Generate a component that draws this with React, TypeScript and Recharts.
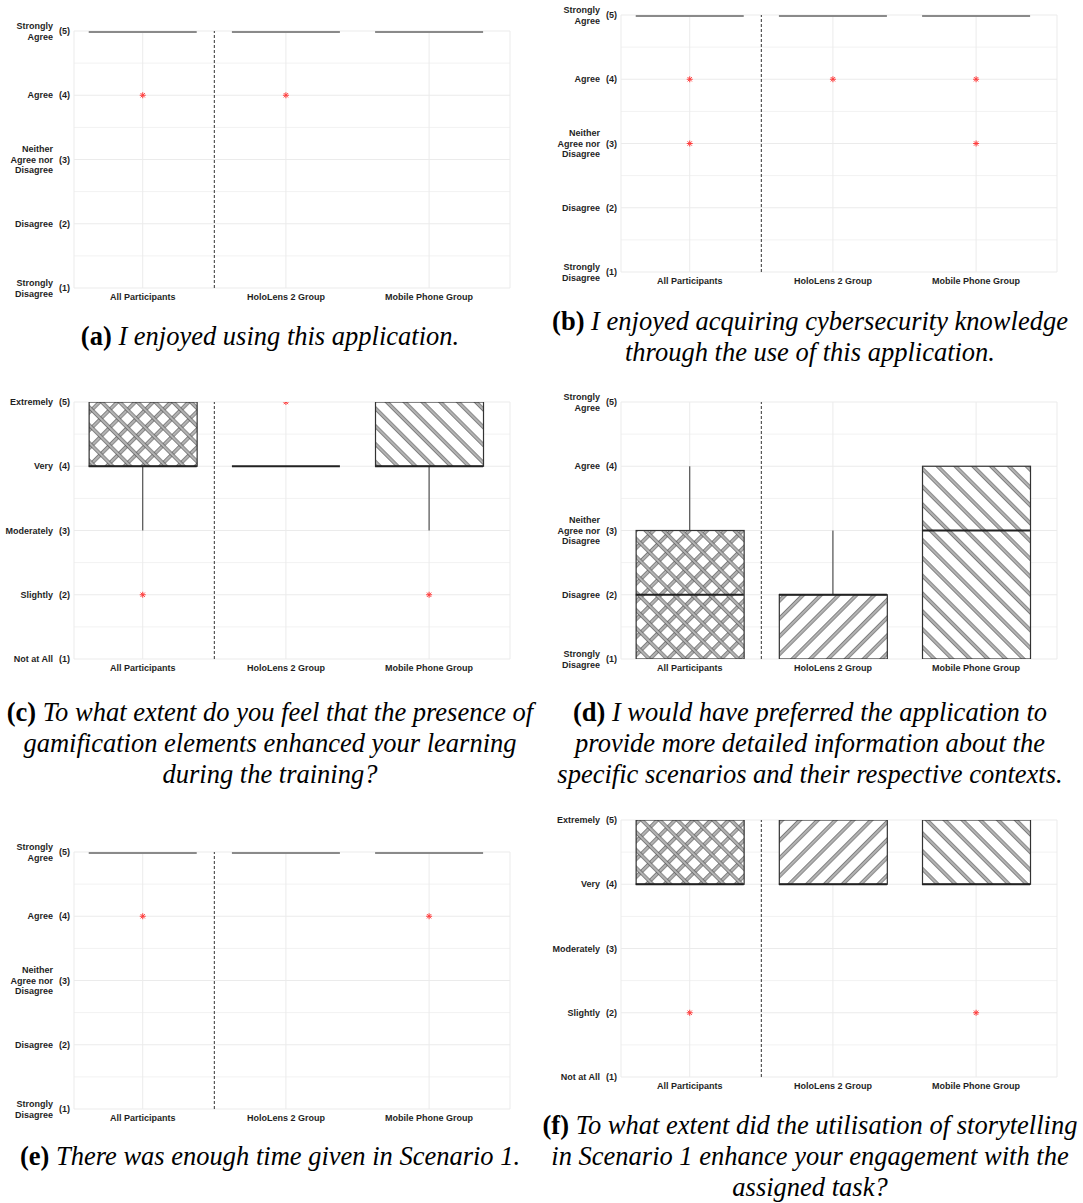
import React from 'react'
import { Bar, CartesianGrid, ComposedChart, ErrorBar, ReferenceLine, Scatter, XAxis, YAxis } from 'recharts'

const groups = ['All Participants', 'HoloLens 2 Group', 'Mobile Phone Group']
const agreeLabels = ['Strongly\nDisagree', 'Disagree', 'Neither\nAgree nor\nDisagree', 'Agree', 'Strongly\nAgree']
const extentLabels = ['Not at All', 'Slightly', 'Moderately', 'Very', 'Extremely']
const yTicks = [1, 2, 3, 4, 5]
const minorTicks = [1.5, 2.5, 3.5, 4.5]

// per group: [lower whisker, q1, median, q3, upper whisker]
const enjoyedUsing = [[5, 5, 5, 5, 5], [5, 5, 5, 5, 5], [5, 5, 5, 5, 5]]
const enjoyedUsingOut = [[4], [4], []]
const enjoyedKnowledge = [[5, 5, 5, 5, 5], [5, 5, 5, 5, 5], [5, 5, 5, 5, 5]]
const enjoyedKnowledgeOut = [[4, 3], [4], [4, 3]]
const gamification = [[3, 4, 4, 5, 5], [4, 4, 4, 4, 4], [3, 4, 4, 5, 5]]
const gamificationOut = [[2], [5], [2]]
const moreDetail = [[1, 1, 2, 3, 4], [1, 1, 2, 2, 3], [1, 1, 3, 4, 4]]
const moreDetailOut = [[], [], []]
const enoughTime = [[5, 5, 5, 5, 5], [5, 5, 5, 5, 5], [5, 5, 5, 5, 5]]
const enoughTimeOut = [[4], [], [4]]
const storytelling = [[4, 4, 4, 5, 5], [4, 4, 4, 5, 5], [4, 4, 4, 5, 5]]
const storytellingOut = [[2], [], [2]]

const BOX_W = 108
const PLOT_W = 436
const PLOT_H = 257
const M_TOP = 10
const M_RIGHT = 12
const X_AXIS_H = 26
// fills per group; all participants get both diagonals
const boxFills = [['url(#hatchFwd)', 'url(#hatchBackClear)'], ['url(#hatchFwd)'], ['url(#hatchBack)']]
const sans = '"Liberation Sans", Arial, sans-serif'

const panels = [
  { tag: '(a)', caption: ['I enjoyed using this application.'], stats: enjoyedUsing, out: enjoyedUsingOut, labels: agreeLabels, col: 0, plotLeft: 74, plotTop: 31, capTop: 321 },
  { tag: '(b)', caption: ['I enjoyed acquiring cybersecurity knowledge', 'through the use of this application.'], stats: enjoyedKnowledge, out: enjoyedKnowledgeOut, labels: agreeLabels, col: 540, plotLeft: 81, plotTop: 15, capTop: 306 },
  { tag: '(c)', caption: ['To what extent do you feel that the presence of', 'gamification elements enhanced your learning', 'during the training?'], stats: gamification, out: gamificationOut, labels: extentLabels, col: 0, plotLeft: 74, plotTop: 402, capTop: 697 },
  { tag: '(d)', caption: ['I would have preferred the application to', 'provide more detailed information about the', 'specific scenarios and their respective contexts.'], stats: moreDetail, out: moreDetailOut, labels: agreeLabels, col: 540, plotLeft: 81, plotTop: 402, capTop: 697 },
  { tag: '(e)', caption: ['There was enough time given in Scenario 1.'], stats: enoughTime, out: enoughTimeOut, labels: agreeLabels, col: 0, plotLeft: 74, plotTop: 852, capTop: 1141 },
  { tag: '(f)', caption: ['To what extent did the utilisation of storytelling', 'in Scenario 1 enhance your engagement with the', 'assigned task?'], stats: storytelling, out: storytellingOut, labels: extentLabels, col: 540, plotLeft: 81, plotTop: 820, capTop: 1110 },
]

function Patterns() {
  const s = 12.6
  const h = 3000
  const stripe = (
    <g>
      <rect x={0.6} y={0} width={2.6} height={h} fill="#c0c0c0" />
      <line x1={0.6} y1={0} x2={0.6} y2={h} stroke="#4d4d4d" strokeWidth={0.75} />
      <line x1={3.2} y1={0} x2={3.2} y2={h} stroke="#4d4d4d" strokeWidth={0.75} />
    </g>
  )
  const tile = (id: string, angle: number, bg: boolean) => (
    <pattern id={id} patternUnits="userSpaceOnUse" x={0} y={-1500} width={s} height={h} patternTransform={`rotate(${angle})`}>
      {bg ? <rect width={s} height={h} fill="#fff" /> : null}
      {stripe}
    </pattern>
  )
  return (
    <svg width={0} height={0} style={{ position: 'absolute' }}>
      <defs>
        {tile('hatchFwd', 45, true)}
        {tile('hatchBack', -45, true)}
        {tile('hatchBackClear', -45, false)}
      </defs>
    </svg>
  )
}

const BoxShape = (props: any) => {
  const { x, y, width, height, index } = props
  if (!height) return null
  const cx = x + width / 2
  const top = height < 0 ? y + height : y
  const h = Math.abs(height)
  const left = cx - BOX_W / 2
  return (
    <g>
      {boxFills[index].map((f, i) => (
        <rect key={i} x={left} y={top} width={BOX_W} height={h} fill={f} stroke="none" />
      ))}
      <rect x={left} y={top} width={BOX_W} height={h} fill="none" stroke="#333" strokeWidth={1.2} />
    </g>
  )
}

const MedianShape = (props: any) => {
  const { cx, cy, payload } = props
  const faded = payload.collapsed && payload.y === 5
  return (
    <line x1={cx - BOX_W / 2} y1={cy} x2={cx + BOX_W / 2} y2={cy} stroke={faded ? '#8a8a8a' : '#222'} strokeWidth={faded ? 4 : 2} />
  )
}

const Asterisk = (props: any) => {
  const { cx, cy } = props
  const r = 3
  const d = r * 0.72
  return (
    <g stroke="#ff3d3d" strokeWidth={1}>
      <line x1={cx - r} y1={cy} x2={cx + r} y2={cy} />
      <line x1={cx} y1={cy - r} x2={cx} y2={cy + r} />
      <line x1={cx - d} y1={cy - d} x2={cx + d} y2={cy + d} />
      <line x1={cx - d} y1={cy + d} x2={cx + d} y2={cy - d} />
    </g>
  )
}

const Nothing = () => <g />

function BoxPanel({ p }: { p: any }) {
  const width = p.plotLeft + PLOT_W + M_RIGHT
  const height = M_TOP + PLOT_H + X_AXIS_H
  const rows = groups.map((g, i) => {
    const [lo, q1, med, q3, hi] = p.stats[i]
    return { x: i + 1, name: g, box: [q1, q3], lo, q1, med, q3, hi }
  })
  const upper = rows.map((r) => ({ x: r.x, y: r.q3, err: [0, r.hi - r.q3] }))
  const lower = rows.map((r) => ({ x: r.x, y: r.q1, err: [r.q1 - r.lo, 0] }))
  const medians = rows.map((r) => ({ x: r.x, y: r.med, collapsed: r.q1 === r.q3 }))
  const outliers = p.out.flatMap((vals: number[], i: number) => vals.map((v) => ({ x: i + 1, y: v })))

  const yTick = (t: any) => {
    const v = t.payload.value
    const lines = p.labels[v - 1].split('\n')
    const n = lines.length
    return (
      <g fontFamily={sans} fontSize={9} fontWeight="bold" fill="#1f1f1f">
        {lines.map((ln: string, i: number) => (
          <text key={i} x={p.plotLeft - 21} y={t.y + (i - (n - 1) / 2) * 10.7} dy="0.35em" textAnchor="end">
            {ln}
          </text>
        ))}
        <text x={p.plotLeft - 4} y={t.y} dy="0.35em" textAnchor="end">{`(${v})`}</text>
      </g>
    )
  }
  const xTick = (t: any) => (
    <text x={t.x} y={M_TOP + PLOT_H + 9} dy="0.35em" textAnchor="middle" fontFamily={sans} fontSize={9} fontWeight="bold" fill="#1f1f1f">
      {groups[t.payload.value - 1]}
    </text>
  )

  return (
    <div style={{ position: 'absolute', left: p.col, top: p.plotTop - M_TOP }}>
      <ComposedChart width={width} height={height} data={rows} margin={{ top: M_TOP, right: M_RIGHT, bottom: 0, left: 0 }}>
        <CartesianGrid stroke="#f2f2f2" strokeWidth={1} vertical={false} horizontalValues={minorTicks} />
        <CartesianGrid stroke="#ebebeb" strokeWidth={1} />
        <XAxis dataKey="x" type="number" domain={[0.52, 3.565]} ticks={[1, 2, 3]} allowDataOverflow axisLine={false} tickLine={false} tick={xTick} height={X_AXIS_H} />
        <YAxis type="number" domain={[1, 5]} ticks={yTicks} allowDataOverflow axisLine={false} tickLine={false} tick={yTick} width={p.plotLeft} />
        <ReferenceLine x={1.5} stroke="#333" strokeDasharray="3 2" strokeWidth={1} />
        <Scatter data={upper} dataKey="y" shape={Nothing} isAnimationActive={false}>
          <ErrorBar dataKey="err" direction="y" width={0} stroke="#444" strokeWidth={1.1} isAnimationActive={false} />
        </Scatter>
        <Scatter data={lower} dataKey="y" shape={Nothing} isAnimationActive={false}>
          <ErrorBar dataKey="err" direction="y" width={0} stroke="#444" strokeWidth={1.1} isAnimationActive={false} />
        </Scatter>
        <Bar dataKey="box" barSize={BOX_W} shape={BoxShape} isAnimationActive={false} />
        <Scatter data={medians} dataKey="y" shape={MedianShape} isAnimationActive={false} />
        <Scatter data={outliers} dataKey="y" shape={Asterisk} isAnimationActive={false} />
      </ComposedChart>
    </div>
  )
}

function Caption({ p }: { p: any }) {
  return (
    <div
      style={{
        position: 'absolute',
        left: p.col,
        top: p.capTop,
        width: 540,
        textAlign: 'center',
        fontFamily: '"Liberation Serif", "Times New Roman", serif',
        fontSize: 26.5,
        lineHeight: '31px',
        color: '#000',
        whiteSpace: 'nowrap',
      }}
    >
      {p.caption.map((ln: string, i: number) => (
        <div key={i}>
          {i === 0 ? <b style={{ fontStyle: 'normal' }}>{p.tag} </b> : null}
          <i>{ln}</i>
        </div>
      ))}
    </div>
  )
}

export default function App() {
  return (
    <div style={{ position: 'absolute', left: 0, top: 0, width: 1083, height: 1203, background: '#fff', overflow: 'hidden' }}>
      <Patterns />
      {panels.map((p) => (
        <React.Fragment key={p.tag}>
          <BoxPanel p={p} />
          <Caption p={p} />
        </React.Fragment>
      ))}
    </div>
  )
}
